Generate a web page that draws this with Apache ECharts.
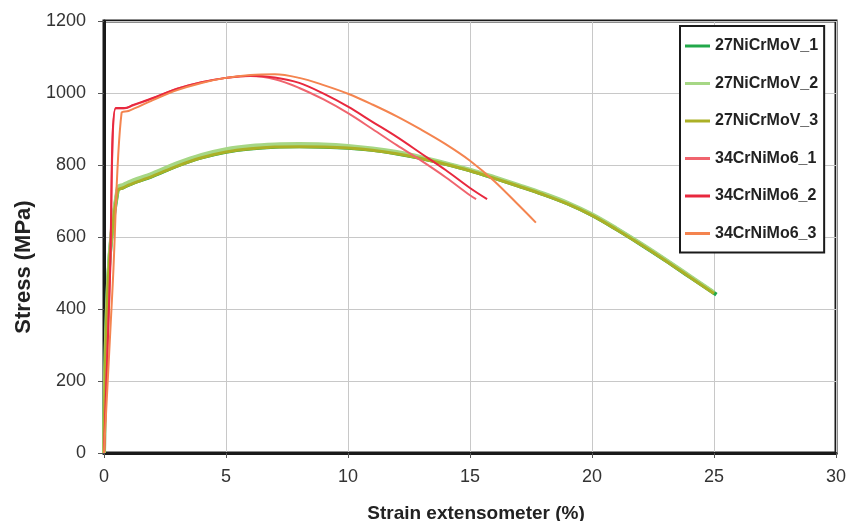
<!DOCTYPE html>
<html>
<head>
<meta charset="utf-8">
<script src="https://cdn.jsdelivr.net/npm/echarts@6/dist/echarts.min.js"></script>
<style>
  html, body { margin: 0; padding: 0; background: #fff; }
  #chart { width: 851px; height: 521px; }
</style>
</head>
<body>
<div id="chart"></div>
<script>
// strain (%) / stress (MPa)
var strain_27_1 = [0, 0.18, 0.56, 0.8, 1, 2, 3, 4, 5, 6, 7, 8, 9, 10, 11, 12, 13, 14, 15, 16, 17, 18, 19, 20, 21, 22, 23, 24, 25.1];
var stress_27_1 = [0, 490, 730, 738, 745, 770, 798, 821, 837, 846, 851, 852, 851, 848, 842, 832, 819, 803, 785, 764, 742, 719, 693, 661, 622, 580, 536, 490, 440];
var strain_27_2 = [0, 0.18, 0.56, 0.8, 1, 2, 3, 4, 5, 6, 7, 8, 9, 10, 11, 12, 13, 14, 15, 16, 17, 18, 19, 20, 21, 22, 23, 24, 25];
var stress_27_2 = [0, 495, 737, 745, 752, 777, 805, 828, 844, 853, 857, 858, 857, 853, 846, 836, 822, 805, 787, 766, 744, 721, 695, 663, 624, 582, 538, 492, 446];
var strain_27_3 = [0, 0.18, 0.56, 0.8, 1, 2, 3, 4, 5, 6, 7, 8, 9, 10, 11, 12, 13, 14, 15, 16, 17, 18, 19, 20, 21, 22, 23, 24, 25];
var stress_27_3 = [0, 488, 729, 737, 744, 769, 797, 820, 836, 845, 850, 851, 850, 847, 841, 831, 818, 802, 784, 763, 741, 718, 692, 660, 621, 579, 535, 489, 443];

var strain_34_1 = [0, 0.24, 0.48, 0.8, 1.2, 2, 3, 4, 5, 6, 7, 8, 9, 10, 11, 12, 13, 14, 15, 15.25];
var stress_34_1 = [0, 480, 957, 957, 966, 985, 1012, 1030, 1042, 1047, 1038, 1014, 982, 944, 900, 855, 812, 766, 716, 705];
var strain_34_2 = [0, 0.24, 0.48, 0.85, 1.2, 2, 3, 4, 5, 6, 7, 8, 9, 10, 11, 12, 13, 14, 15, 15.7];
var stress_34_2 = [0, 480, 958, 958, 967, 986, 1012, 1030, 1042, 1048, 1043, 1028, 998, 962, 920, 878, 832, 786, 736, 705];
var strain_34_3 = [0, 0.36, 0.72, 1, 2, 3, 4, 5, 6, 7, 8, 9, 10, 11, 12, 13, 14, 15, 16, 17, 17.7];
var stress_34_3 = [0, 472, 945, 950, 980, 1008, 1028, 1042, 1050, 1052, 1042, 1022, 998, 968, 935, 898, 858, 812, 755, 688, 640];

var seriesNames = ['27NiCrMoV_1', '27NiCrMoV_2', '27NiCrMoV_3', '34CrNiMo6_1', '34CrNiMo6_2', '34CrNiMo6_3'];
var seriesColors = ['#22a84a', '#a6d785', '#abb026', '#f0646e', '#e8283e', '#f4844f'];
var seriesWidths = [4, 4, 3, 2, 2, 2];
var strains = [strain_27_1, strain_27_2, strain_27_3, strain_34_1, strain_34_2, strain_34_3];
var stresses = [stress_27_1, stress_27_2, stress_27_3, stress_34_1, stress_34_2, stress_34_3];

function pairs(xs, ys) {
  var out = [];
  for (var i = 0; i < xs.length; i++) out.push([xs[i], ys[i]]);
  return out;
}

var series = seriesNames.map(function (name, i) {
  return {
    name: name,
    type: 'line',
    data: pairs(strains[i], stresses[i]),
    showSymbol: false,
    symbol: 'none',
    smooth: 0.35,
    color: seriesColors[i],
    lineStyle: { width: seriesWidths[i], color: seriesColors[i] },
    z: 3
  };
});

var chart = echarts.init(document.getElementById('chart'));
chart.setOption({
  animation: false,
  backgroundColor: '#fff',
  grid: {
    left: 104, top: 21, right: 15, bottom: 68,
    outerBoundsMode: 'none',
    containLabel: false,
    show: true, borderColor: '#1a1a1a', borderWidth: 3
  },
  legend: {
    orient: 'vertical',
    left: 680, top: 26,
    padding: [10, 6, 9, 5],
    itemGap: 17.5,
    itemWidth: 25,
    itemHeight: 3,
    icon: 'rect',
    backgroundColor: '#fff',
    borderColor: '#1a1a1a',
    borderWidth: 2,
    data: seriesNames,
    textStyle: { fontFamily: 'Liberation Sans', fontWeight: 'bold', fontSize: 16, color: '#222', lineHeight: 20 }
  },
  xAxis: {
    type: 'value',
    min: 0, max: 30, interval: 5,
    name: 'Strain extensometer (%)',
    nameLocation: 'middle',
    nameGap: 51,
    nameTextStyle: { fontFamily: 'Liberation Sans', fontWeight: 'bold', fontSize: 19, color: '#222', padding: [0, 0, 0, 12] },
    axisLine: { lineStyle: { color: '#1a1a1a', width: 3 } },
    axisTick: { show: true, length: 5, lineStyle: { color: '#555' } },
    axisLabel: { fontFamily: 'Liberation Sans', fontSize: 18, color: '#333', margin: 15 },
    splitLine: { show: true, lineStyle: { color: '#c8c8c8', width: 1 } }
  },
  yAxis: {
    type: 'value',
    min: 0, max: 1200, interval: 200,
    name: 'Stress (MPa)',
    nameLocation: 'middle',
    nameGap: 69,
    nameTextStyle: { fontFamily: 'Liberation Sans', fontWeight: 'bold', fontSize: 22, color: '#222', padding: [0, 60, 0, 0] },
    axisLine: { show: true, lineStyle: { color: '#1a1a1a', width: 3 } },
    axisTick: { show: true, length: 6, lineStyle: { color: '#555' } },
    axisLabel: { fontFamily: 'Liberation Sans', fontSize: 18, color: '#333', margin: 18, formatter: function (v) { return String(v); } },
    splitLine: { show: true, lineStyle: { color: '#c8c8c8', width: 1 } }
  },
  series: series
});
</script>
</body>
</html>
